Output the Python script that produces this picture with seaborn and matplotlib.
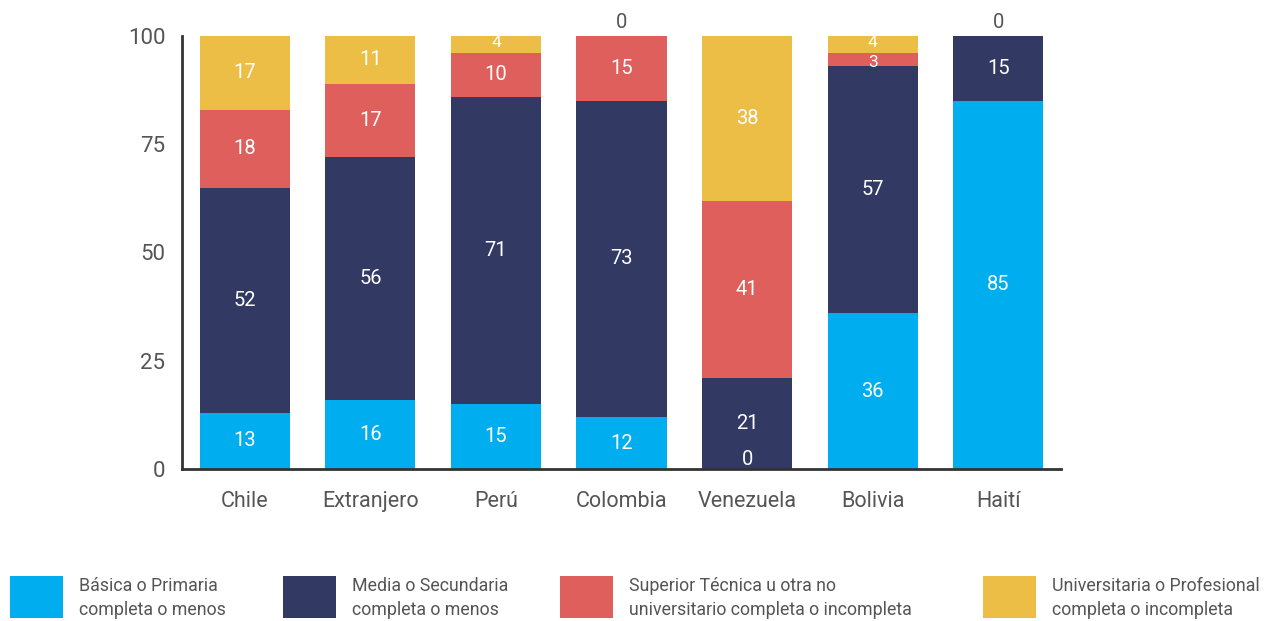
import matplotlib
matplotlib.use("Agg")
import matplotlib.pyplot as plt
import seaborn as sns
import numpy as np
import pandas as pd
from matplotlib.patches import Rectangle

categories = ["Chile", "Extranjero", "Perú", "Colombia", "Venezuela", "Bolivia", "Haití"]
basica = [13, 16, 15, 12, 0, 36, 85]
media = [52, 56, 71, 73, 21, 57, 15]
superior = [18, 17, 10, 15, 41, 3, 0]
universitaria = [17, 11, 4, 0, 38, 4, 0]
series_names = ["Básica o Primaria\ncompleta o menos",
                "Media o Secundaria\ncompleta o menos",
                "Superior Técnica u otra no\nuniversitario completa o incompleta",
                "Universitaria o Profesional\ncompleta o incompleta"]
y_ticks = [0, 25, 50, 75, 100]

colors = ["#00AEEF", "#323A64", "#DE5F5B", "#ECBE45"]
FONT = ["Roboto", "DejaVu Sans"]

sns.set_theme(style="white")
plt.rcParams["font.family"] = FONT

fig = plt.figure(figsize=(12.71, 6.21), dpi=100)
ax = fig.add_axes([182/1271, 1 - 469/621, (1061-182)/1271, (469-36)/621])

series = [basica, media, superior, universitaria]
bottom = np.zeros(len(categories))
for vals, col in zip(series, colors):
    df = pd.DataFrame({"cat": categories, "val": vals})
    sns.barplot(data=df, x="cat", y="val", order=categories, color=col,
                bottom=bottom, width=0.717, ax=ax, saturation=1,
                edgecolor="none", linewidth=0)
    bottom = bottom + np.array(vals)

# value labels
n_series = len(series)
base = np.zeros(len(categories))
for si, vals in enumerate(series):
    for ci, v in enumerate(vals):
        if v == 0:
            if si == n_series - 1:
                ax.text(ci, base[ci] + 3.2, "0", ha="center", va="center",
                        color="#555555", fontsize=14.5, clip_on=False)
            elif si == 0:
                ax.text(ci, base[ci] + 2.1, "0", ha="center", va="center",
                        color="white", fontsize=14.5)
        elif v < 5:
            # thin segments: smaller text, nudged away from the neighbour
            nudge = 0.6 if si == n_series - 1 else -0.6
            ax.text(ci, base[ci] + v / 2 + nudge, str(v), ha="center",
                    va="center", color="white", fontsize=12.5)
        else:
            ax.text(ci, base[ci] + v / 2, str(v), ha="center", va="center",
                    color="white", fontsize=14.5)
    base = base + np.array(vals)

ax.set_xlim(-0.5, 6.5)
ax.set_ylim(0, 100)
ax.set_yticks(y_ticks)
ax.set_yticklabels([str(t) for t in y_ticks])
ax.set_xlabel("")
ax.set_ylabel("")
ax.tick_params(axis="y", length=0, pad=12, labelsize=16, labelcolor="#555555")
ax.tick_params(axis="x", length=0, pad=16, labelsize=15.5, labelcolor="#555555")
for s in ["top", "right"]:
    ax.spines[s].set_visible(False)
for s in ["left", "bottom"]:
    ax.spines[s].set_color("#333333")
    ax.spines[s].set_linewidth(2)
ax.grid(False)

# legend (manual, bottom row)
patch_x = [10, 283, 560, 983]
for px, col, name in zip(patch_x, colors, series_names):
    fig.patches.append(Rectangle((px / 1271, 1 - 618 / 621), 53 / 1271, 42 / 621,
                                 transform=fig.transFigure, facecolor=col,
                                 edgecolor="none"))
    fig.text((px + 69) / 1271, 1 - 598 / 621, name, ha="left", va="center",
             fontsize=12.8, color="#555555", linespacing=1.45)

fig.savefig("out.png", dpi=100)
